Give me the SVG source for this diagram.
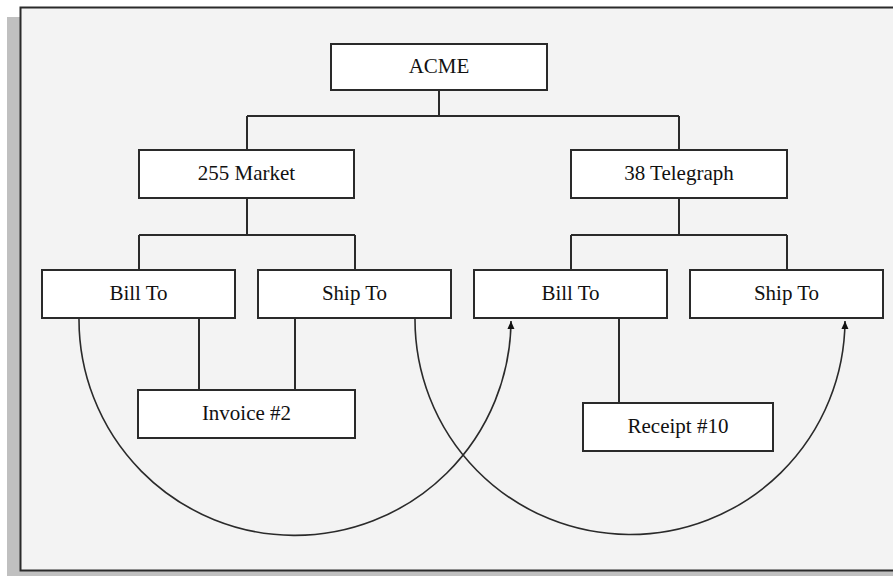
<svg xmlns="http://www.w3.org/2000/svg" width="893" height="576" viewBox="0 0 893 576">
<style>
.box{fill:#ffffff;stroke:#2a2a2a;stroke-width:2}
.lbl{font-family:"Liberation Serif","DejaVu Serif",serif;font-size:21px;fill:#111;text-anchor:middle}
.ln{fill:none;stroke:#2a2a2a;stroke-width:2}
.arc{fill:none;stroke:#2a2a2a;stroke-width:1.6}
</style>
<defs>
<marker id="ah" markerUnits="userSpaceOnUse" markerWidth="10" markerHeight="10" refX="8" refY="3.5" orient="auto">
<path d="M0,0 L8,3.5 L0,7 z" fill="#111"/>
</marker>
</defs>
<rect x="0" y="0" width="893" height="576" fill="#ffffff"/>
<rect x="7" y="17" width="900" height="570" fill="#c0c0c0"/>
<rect x="20.5" y="7.5" width="890" height="563" fill="#f3f3f3" stroke="#2a2a2a" stroke-width="2"/>
<g id="connectors">
<path class="ln" d="M439,90 V116 M247,116 H679 M247,116 V150 M679,116 V150"/>
<path class="ln" d="M247,198 V235 M139,235 H355 M139,235 V270 M355,235 V270"/>
<path class="ln" d="M679,198 V235 M571,235 H787 M571,235 V270 M787,235 V270"/>
<path class="ln" d="M199,318 V390 M295,318 V390"/>
<path class="ln" d="M619,318 V403"/>
<path class="arc" d="M79,318 A216,216 0 0 0 511,321" marker-end="url(#ah)"/>
<path class="arc" d="M415,318 A215,215 0 0 0 845,321" marker-end="url(#ah)"/>
</g>
<g id="acme"><rect class="box" x="331" y="44" width="216" height="46"/><text class="lbl" x="439" y="73">ACME</text></g>
<g id="market"><rect class="box" x="139" y="150" width="215" height="48"/><text class="lbl" x="246.5" y="180">255 Market</text></g>
<g id="telegraph"><rect class="box" x="571" y="150" width="216" height="48"/><text class="lbl" x="679" y="180">38 Telegraph</text></g>
<g id="billto1"><rect class="box" x="42" y="270" width="193" height="48"/><text class="lbl" x="138.5" y="300">Bill To</text></g>
<g id="shipto1"><rect class="box" x="258" y="270" width="193" height="48"/><text class="lbl" x="354.5" y="300">Ship To</text></g>
<g id="billto2"><rect class="box" x="474" y="270" width="193" height="48"/><text class="lbl" x="570.5" y="300">Bill To</text></g>
<g id="shipto2"><rect class="box" x="690" y="270" width="193" height="48"/><text class="lbl" x="786.5" y="300">Ship To</text></g>
<g id="invoice"><rect class="box" x="138" y="390" width="217" height="48"/><text class="lbl" x="246.5" y="420">Invoice #2</text></g>
<g id="receipt"><rect class="box" x="583" y="403" width="190" height="48"/><text class="lbl" x="678" y="433">Receipt #10</text></g>
</svg>
